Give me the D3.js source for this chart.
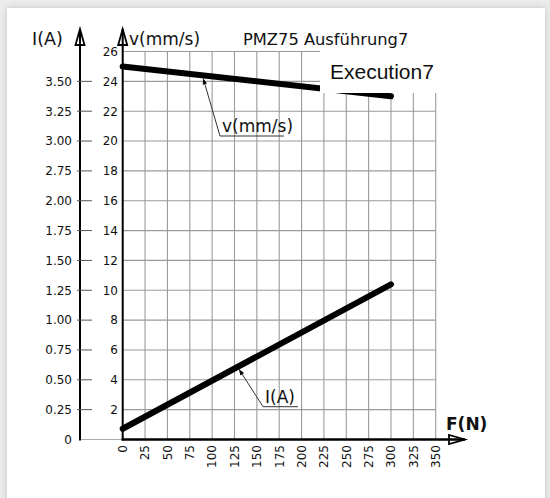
<!DOCTYPE html>
<html>
<head>
<meta charset="utf-8">
<script src="https://cdn.jsdelivr.net/npm/d3@7"></script>
<style>
  html, body { margin: 0; padding: 0; background: #ececec; }
  svg { display: block; }
  text { font-family: "DejaVu Sans", Verdana, sans-serif; fill: #111; }
</style>
</head>
<body>
<svg id="chart" width="550" height="498"></svg>
<script>
// Force axis ticks (N)
const forceTicks = [0, 25, 50, 75, 100, 125, 150, 175, 200, 225, 250, 275, 300, 325, 350];
// Speed axis ticks (mm/s)
const speedTicks = [2, 4, 6, 8, 10, 12, 14, 16, 18, 20, 22, 24, 26];
// Current axis labels, one per grid row from the bottom
const currentTickLabels = ["0", "0.25", "0.50", "0.75", "1.00", "1.25", "1.50", "1.75", "2.00", "2.75", "3.00", "3.25", "3.50"];

// Characteristic curves: force F (N) -> speed v (mm/s) and current I (A)
const force = [0, 300];
const speed = [25.0, 23.0];
const current = [0.09, 1.30];

const titleText = "PMZ75 Ausführung7";
const badgeText = "Execution7";

const svg = d3.select("#chart");

// page card with soft shadow
const defs = svg.append("defs");
const sh = defs.append("filter").attr("id", "shadow")
  .attr("x", "-5%").attr("y", "-5%").attr("width", "110%").attr("height", "110%");
sh.append("feDropShadow").attr("dx", 0).attr("dy", 0).attr("stdDeviation", 3)
  .attr("flood-color", "#000").attr("flood-opacity", 0.18);
svg.append("rect").attr("x", 7).attr("y", 8).attr("width", 538).attr("height", 520)
  .attr("fill", "#fff").attr("filter", "url(#shadow)");

// scales
const x = d3.scaleLinear().domain([0, 350]).range([122.7, 435.7]);
const v = d3.scaleLinear().domain([0, 26]).range([439.5, 51.5]);
const iA = d3.scaleLinear().domain([0, 3.25]).range([439.5, 51.5]);
const ix = 80; // current axis position

// grid
const grid = svg.append("g").attr("stroke", "#9a9a9a").attr("stroke-width", 1.1);
grid.selectAll("line.gx").data(forceTicks.filter(d => d > 0)).join("line")
  .attr("x1", d => x(d)).attr("x2", d => x(d))
  .attr("y1", v(26)).attr("y2", v(0));
grid.selectAll("line.gy").data(speedTicks).join("line")
  .attr("x1", x(0)).attr("x2", x(350))
  .attr("y1", d => v(d)).attr("y2", d => v(d));
// thin baseline joining the two vertical axes
svg.append("line").attr("x1", ix).attr("x2", x(0)).attr("y1", v(0)).attr("y2", v(0))
  .attr("stroke", "#aaa").attr("stroke-width", 1);

// curves
const speedLine = d3.line().x(d => x(d[0])).y(d => v(d[1]));
const currentLine = d3.line().x(d => x(d[0])).y(d => iA(d[1]));
svg.append("path").datum(d3.zip(force, speed)).attr("d", speedLine)
  .attr("fill", "none").attr("stroke", "#000").attr("stroke-width", 6).attr("stroke-linecap", "round");
svg.append("path").datum(d3.zip(force, current)).attr("d", currentLine)
  .attr("fill", "none").attr("stroke", "#000").attr("stroke-width", 6).attr("stroke-linecap", "round");

// badge over the upper right of the plot
svg.append("rect").attr("x", 320).attr("y", 50).attr("width", 120).attr("height", 43).attr("fill", "#fff");
svg.append("text").attr("x", 330).attr("y", 79).attr("font-family", "Liberation Sans, Arial, sans-serif")
  .style("font-family", "'Liberation Sans', Arial, sans-serif")
  .attr("font-size", 21).text(badgeText);

// axes
function arrowUp(g, ax, yTip) {
  g.append("line").attr("x1", ax).attr("x2", ax).attr("y1", v(0) + 1).attr("y2", yTip)
    .attr("stroke", "#000").attr("stroke-width", 2);
  g.append("path").attr("d", `M${ax},${yTip} L${ax - 4.5},${yTip + 16} L${ax + 4.5},${yTip + 16} Z`)
    .attr("fill", "none").attr("stroke", "#000").attr("stroke-width", 1.8).attr("stroke-linejoin", "miter");
}
const axes = svg.append("g");
arrowUp(axes, ix, 29);
arrowUp(axes, x(0), 29);
axes.append("line").attr("x1", x(0) - 1).attr("x2", 465).attr("y1", v(0)).attr("y2", v(0))
  .attr("stroke", "#000").attr("stroke-width", 2.5);
axes.append("path").attr("d", `M465,${v(0)} L449,${v(0) - 4.5} L449,${v(0) + 4.5} Z`)
  .attr("fill", "none").attr("stroke", "#000").attr("stroke-width", 1.8);

// speed tick labels
axes.selectAll("text.vt").data(speedTicks).join("text")
  .attr("x", 118).attr("y", d => v(d)).attr("dy", "0.36em")
  .attr("text-anchor", "end").attr("font-size", 12).text(d => d);

// current ticks and labels, one per grid row
const rows = currentTickLabels.map((t, k) => ({ t, pos: v(k * 2) }));
axes.selectAll("line.it").data(rows.filter((r, k) => k > 0)).join("line")
  .attr("x1", ix - 3).attr("x2", ix + 12).attr("y1", d => d.pos).attr("y2", d => d.pos)
  .attr("stroke", "#555").attr("stroke-width", 1);
axes.selectAll("text.il").data(rows).join("text")
  .attr("x", 72).attr("y", d => d.pos).attr("dy", "0.36em")
  .attr("text-anchor", "end").attr("font-size", 12).text(d => d.t);

// force tick labels, rotated
axes.selectAll("text.ft").data(forceTicks).join("text")
  .attr("transform", d => `translate(${x(d)},445) rotate(-90)`)
  .attr("dy", "0.36em").attr("text-anchor", "end").attr("font-size", 12).text(d => d);

// axis titles
svg.append("text").attr("x", 32).attr("y", 45).attr("font-size", 17.5).text("I(A)");
svg.append("text").attr("x", 129).attr("y", 45).attr("font-size", 17).text("v(mm/s)");
svg.append("text").attr("x", 243).attr("y", 45).attr("font-size", 16.3).text(titleText);
svg.append("text").attr("x", 446).attr("y", 430).attr("font-size", 17).attr("font-weight", "bold").text("F(N)");

// leader callouts naming each curve
function callout(px, py, kx, ky, label, width) {
  const g = svg.append("g");
  const ang = Math.atan2(py - ky, px - kx);
  g.append("path").attr("d", `M${px},${py} L${kx},${ky} L${kx + width},${ky}`)
    .attr("fill", "none").attr("stroke", "#333").attr("stroke-width", 1);
  const a = 6, w = 2.2;
  const bx = px - a * Math.cos(ang), by = py - a * Math.sin(ang);
  g.append("path").attr("d",
    `M${px},${py} L${bx - w * Math.sin(ang)},${by + w * Math.cos(ang)} L${bx + w * Math.sin(ang)},${by - w * Math.cos(ang)} Z`)
    .attr("fill", "#000");
  g.append("text").attr("x", kx + 2).attr("y", ky - 4).attr("font-size", 17).text(label);
}
const vAt = f => speed[0] + (speed[1] - speed[0]) * (f - force[0]) / (force[1] - force[0]);
const iAt = f => current[0] + (current[1] - current[0]) * (f - force[0]) / (force[1] - force[0]);
callout(x(90), v(vAt(90)) + 3, 220, 136, "v(mm/s)", 64);
callout(x(130), iA(iAt(130)) + 3, 263, 406.7, "I(A)", 35);
</script>
</body>
</html>
